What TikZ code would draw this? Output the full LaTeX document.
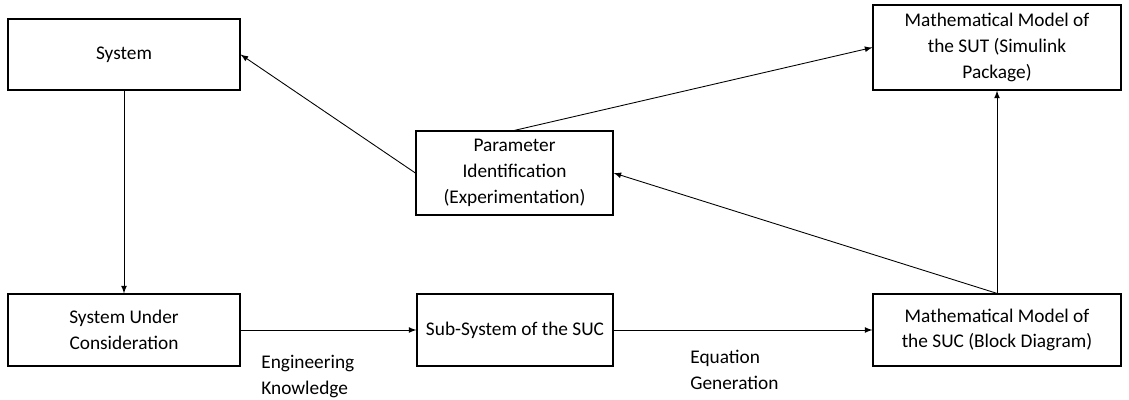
\documentclass[tikz,border=0pt]{standalone}
\usepackage{fontspec}
\setmainfont{Carlito}
\usetikzlibrary{shapes}
\usetikzlibrary{arrows}

\begin{document}
\begin{tikzpicture}
					\tikzstyle{block}=[rectangle,draw,line width=0.7pt,align=center,inner sep=2pt,font=\fontsize{11}{14.6}\selectfont]
					\tikzstyle{lbl}=[align=left,inner sep=0pt,font=\fontsize{11}{14.6}\selectfont]
					\tikzstyle{flow}=[->,>=latex,line width=0.5pt]
					\useasboundingbox (0,0) rectangle (22.58,-8.0);
					% top row
					\node[block,minimum width=4.64cm,minimum height=1.42cm] (sys) at (2.48,-1.09) {System};
					\node[block,minimum width=3.94cm,minimum height=1.68cm] (param) at (10.29,-3.46) {Parameter\\Identification\\(Experimentation)};
					\node[block,minimum width=4.96cm,minimum height=1.70cm] (mmsut) at (19.94,-0.95) {Mathematical Model of\\the SUT (Simulink\\Package)};
					% bottom row
					\node[block,minimum width=4.64cm,minimum height=1.44cm] (suc) at (2.48,-6.60) {System Under\\Consideration};
					\node[block,minimum width=3.92cm,minimum height=1.44cm] (subsys) at (10.30,-6.60) {Sub-System of the SUC};
					\node[block,minimum width=4.96cm,minimum height=1.44cm] (mmsuc) at (19.94,-6.60) {Mathematical Model of\\the SUC (Block Diagram)};
					% edge labels
					\node[lbl,anchor=west] (engknow) at (5.22,-7.53) {Engineering\\Knowledge};
					\node[lbl,anchor=west] (eqgen) at (13.80,-7.40) {Equation\\Generation};
					% connectors
					\draw[flow] (sys.south) -- (suc.north);
					\draw[flow] (suc.east) -- (subsys.west);
					\draw[flow] (subsys.east) -- (mmsuc.west);
					\draw[flow] (mmsuc.north) -- (mmsut.south);
					\draw[flow] (mmsuc.north) -- (param.east);
					\draw[flow] (param.west) -- (sys.east);
					\draw[flow] (param.north) -- (mmsut.west);
\end{tikzpicture}
\end{document}
